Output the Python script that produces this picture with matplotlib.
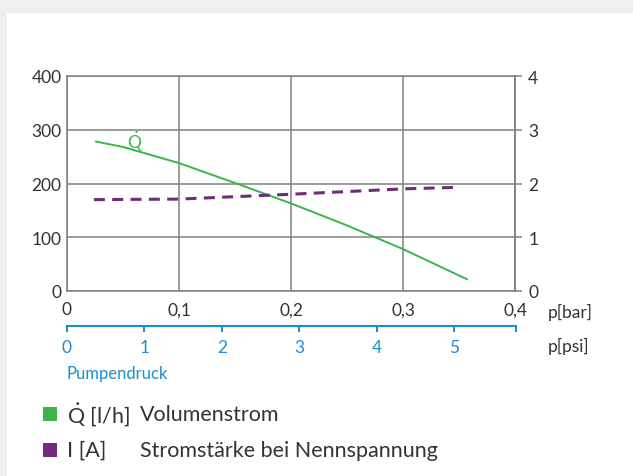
import matplotlib
matplotlib.use('Agg')
import matplotlib.pyplot as plt
from matplotlib.patches import Rectangle

# data
bar_ticks = [0, 0.1, 0.2, 0.3, 0.4]
bar_labels = ['0', '0,1', '0,2', '0,3', '0,4']
q_ticks = [0, 100, 200, 300, 400]
i_ticks = [0, 1, 2, 3, 4]
psi_ticks = [0, 1, 2, 3, 4, 5]

# volume flow Q [l/h] vs pump pressure [bar]
q_bar = [0.026, 0.05, 0.1, 0.15, 0.2, 0.25, 0.3, 0.357]
q_flow = [278, 268, 238, 201, 163, 122, 78, 22]

# current I [A] vs pump pressure [bar]
i_bar = [0.024, 0.1, 0.2, 0.3, 0.351]
i_current = [1.70, 1.71, 1.80, 1.90, 1.93]

BAR_TO_PSI = 1 / 0.0689476

GREEN = '#3cb44b'
PURPLE = '#6e2d78'
BLUE = '#1b8fd0'
GRID = '#808080'
TEXT = '#333333'

W, H = 633, 477

plt.rcParams['font.family'] = ['Lato', 'DejaVu Sans']
plt.rcParams['mathtext.fontset'] = 'custom'
plt.rcParams['mathtext.rm'] = 'Lato'
plt.rcParams['mathtext.it'] = 'Lato'

QDOT = r'$\dot{\mathrm{Q}}$'


def fx(px):
    return px / W


def fy(py):
    return 1 - py / H


fig = plt.figure(figsize=(W / 100, H / 100), dpi=100, facecolor='#efefef')
fig.patches.append(Rectangle((fx(7), 0), 1, fy(14), transform=fig.transFigure,
                             facecolor='white', edgecolor='none', zorder=-10))

# main chart
ax = fig.add_axes([fx(67), fy(292), fx(515) - fx(67), fy(77) - fy(292)])
ax.set_xlim(0, 0.4)
ax.set_ylim(0, 400)
ax.set_xticks(bar_ticks)
ax.set_xticklabels(bar_labels)
ax.set_yticks(q_ticks)
ax.grid(True, color=GRID, lw=1.1)
for s in ax.spines.values():
    s.set_color(GRID)
    s.set_linewidth(1.1)
ax.tick_params(axis='both', length=0, labelsize=12.5, colors=TEXT)
ax.tick_params(axis='y', pad=4)
ax.tick_params(axis='x', pad=7.5)

ax.plot(q_bar, q_flow, color=GREEN, lw=1.4)
ax.text(0.0607, 279, QDOT, color=GREEN, fontsize=12.5, ha='center', va='center')

ax2 = ax.twinx()
ax2.set_ylim(0, 4)
ax2.set_yticks(i_ticks)
for name, s in ax2.spines.items():
    s.set_visible(name == 'right')
ax2.spines['right'].set_color(GRID)
ax2.spines['right'].set_linewidth(1.1)
ax2.tick_params(axis='y', direction='out', length=5, width=1.1, color=GRID,
                labelcolor=TEXT, labelsize=12.5, pad=4.5)
ax2.plot(i_bar, i_current, color=PURPLE, lw=2.2, dashes=(3.6, 2.4))

# psi scale
axp = fig.add_axes([fx(67), fy(327), fx(516) - fx(67), 0.0001])
axp.set_xlim(0, 0.4 * BAR_TO_PSI)
axp.set_xticks(psi_ticks + [0.4 * BAR_TO_PSI])
axp.set_xticklabels([str(t) for t in psi_ticks] + [''])
axp.set_yticks([])
axp.patch.set_visible(False)
for name, s in axp.spines.items():
    s.set_visible(name == 'bottom')
axp.spines['bottom'].set_color(BLUE)
axp.spines['bottom'].set_linewidth(1.5)
axp.tick_params(axis='x', direction='out', length=4.5, width=1.5, colors=BLUE,
                labelsize=12.5, pad=5)

fig.text(fx(548), fy(312), 'p[bar]', color=TEXT, fontsize=12.5, va='center', ha='left')
fig.text(fx(548), fy(346), 'p[psi]', color=TEXT, fontsize=12.5, va='center', ha='left')
fig.text(fx(67), fy(374), 'Pumpendruck', color=BLUE, fontsize=12, va='center', ha='left')

# legend
fig.patches.append(Rectangle((fx(43), fy(422)), fx(14), fy(408) - fy(422),
                             transform=fig.transFigure, facecolor=GREEN, edgecolor='none'))
fig.patches.append(Rectangle((fx(43), fy(458)), fx(14), fy(444) - fy(458),
                             transform=fig.transFigure, facecolor=PURPLE, edgecolor='none'))
fig.text(fx(67), fy(415), QDOT + ' [l/h]', color=TEXT, fontsize=15.5, va='center', ha='left')
fig.text(fx(140), fy(415), 'Volumenstrom', color=TEXT, fontsize=15.5, va='center', ha='left')
fig.text(fx(67), fy(451), 'I [A]', color=TEXT, fontsize=15.5, va='center', ha='left')
fig.text(fx(140), fy(451), 'Stromstärke bei Nennspannung', color=TEXT, fontsize=15.5,
         va='center', ha='left')

fig.savefig('out.png', dpi=100, facecolor=fig.get_facecolor())
